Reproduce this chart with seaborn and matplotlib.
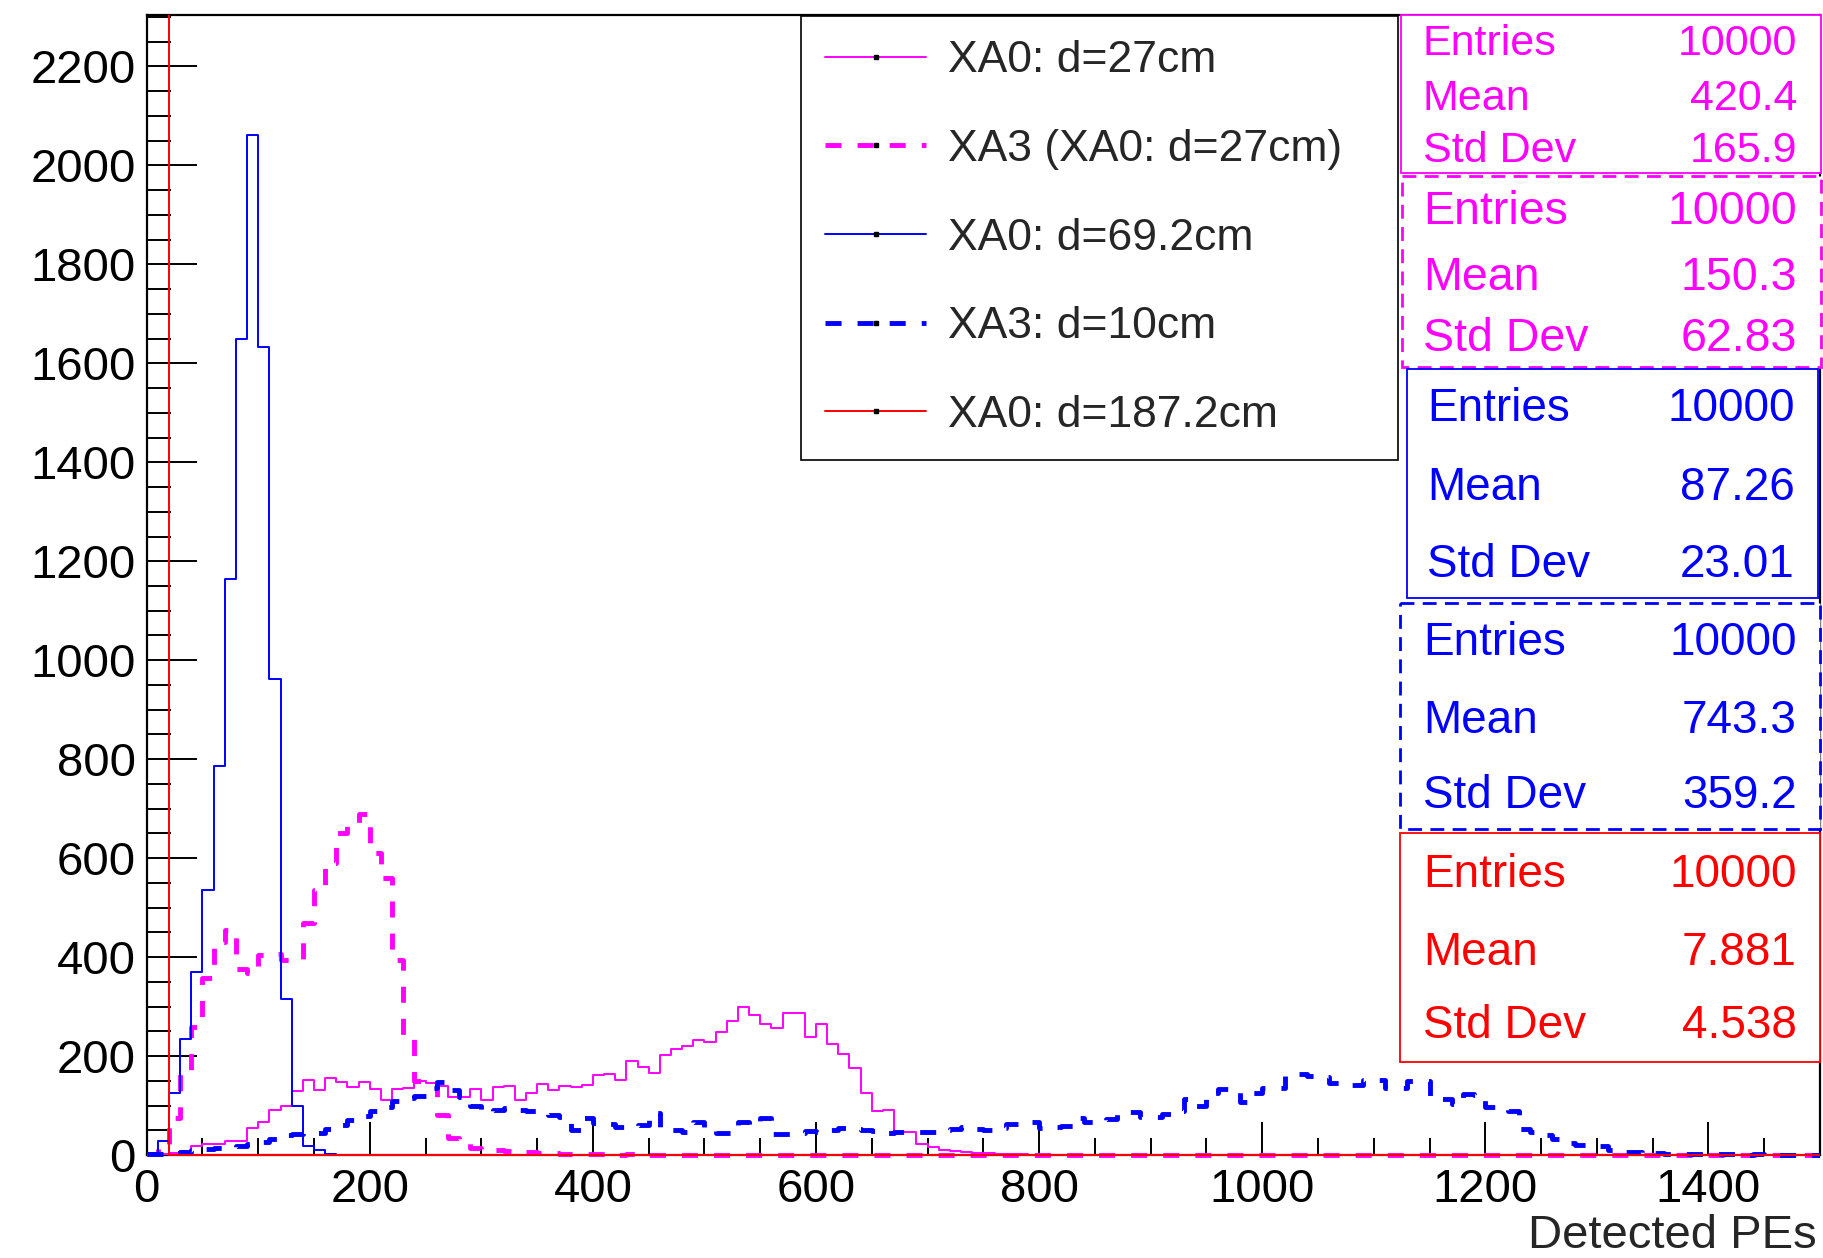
import numpy as np
import pandas as pd
import matplotlib
matplotlib.use("Agg")
import matplotlib.pyplot as plt
import seaborn as sns
from matplotlib.lines import Line2D
from matplotlib.patches import Rectangle
from matplotlib.transforms import Affine2D, Bbox, TransformedBbox
from matplotlib.ticker import MultipleLocator

# ---------------------------------------------------------------- data
bin_edges = list(range(0, 1501, 10))        # 150 bins of 10 PE

xa0_d27 = [
    2, 3, 5, 8, 18, 22, 22, 28, 28, 55,
    67, 91, 99, 129, 151, 131, 156, 147, 138, 147,
    133, 112, 133, 135, 150, 145, 140, 118, 118, 133,
    112, 138, 139, 111, 125, 143, 131, 139, 138, 141,
    162, 164, 152, 189, 178, 165, 202, 215, 220, 232,
    228, 249, 271, 300, 283, 265, 256, 288, 288, 238,
    265, 224, 205, 175, 126, 88, 90, 46, 46, 22,
    17, 11, 8, 7, 5, 4, 3, 2, 2, 1,
    1, 1, 1, 0, 1, 0, 0, 0, 0, 0,
    0, 0, 0, 0, 0, 0, 0, 0, 0, 0,
    0, 0, 0, 0, 0, 0, 0, 0, 0, 0,
    0, 0, 0, 0, 0, 0, 0, 0, 0, 0,
    0, 0, 0, 0, 0, 0, 0, 0, 0, 0,
    0, 0, 0, 0, 0, 0, 0, 0, 0, 0,
    0, 0, 0, 0, 0, 0, 0, 0, 0, 0,
]

xa3_of_xa0_d27 = [
    2, 20, 75, 168, 259, 357, 430, 455, 375, 367,
    404, 406, 394, 395, 468, 535, 590, 650, 665, 690,
    610, 560, 395, 240, 150, 145, 80, 35, 27, 15,
    12, 10, 8, 6, 7, 5, 4, 3, 3, 2,
    2, 2, 1, 2, 1, 1, 1, 0, 1, 0,
    0, 0, 0, 0, 0, 0, 0, 0, 0, 0,
    0, 0, 0, 0, 0, 0, 0, 0, 0, 0,
    0, 0, 0, 0, 0, 0, 0, 0, 0, 0,
    0, 0, 0, 0, 0, 0, 0, 0, 0, 0,
    0, 0, 0, 0, 0, 0, 0, 0, 0, 0,
    0, 0, 0, 0, 0, 0, 0, 0, 0, 0,
    0, 0, 0, 0, 0, 0, 0, 0, 0, 0,
    0, 0, 0, 0, 0, 0, 0, 0, 0, 0,
    0, 0, 0, 0, 0, 0, 0, 0, 0, 0,
    0, 0, 0, 0, 0, 0, 0, 0, 0, 0,
]

xa0_d69 = [
    5, 28, 126, 235, 370, 535, 787, 1165, 1649, 2062,
    1633, 962, 316, 99, 18, 10, 2, 0, 0, 0,
    0, 0, 0, 0, 0, 0, 0, 0, 0, 0,
    0, 0, 0, 0, 0, 0, 0, 0, 0, 0,
    0, 0, 0, 0, 0, 0, 0, 0, 0, 0,
    0, 0, 0, 0, 0, 0, 0, 0, 0, 0,
    0, 0, 0, 0, 0, 0, 0, 0, 0, 0,
    0, 0, 0, 0, 0, 0, 0, 0, 0, 0,
    0, 0, 0, 0, 0, 0, 0, 0, 0, 0,
    0, 0, 0, 0, 0, 0, 0, 0, 0, 0,
    0, 0, 0, 0, 0, 0, 0, 0, 0, 0,
    0, 0, 0, 0, 0, 0, 0, 0, 0, 0,
    0, 0, 0, 0, 0, 0, 0, 0, 0, 0,
    0, 0, 0, 0, 0, 0, 0, 0, 0, 0,
    0, 0, 0, 0, 0, 0, 0, 0, 0, 0,
]

xa3_d10 = [
    2, 2, 4, 6, 10, 12, 15, 15, 18, 22,
    27, 33, 40, 42, 44, 44, 52, 61, 70, 78,
    88, 98, 110, 115, 120, 135, 148, 132, 117, 100,
    86, 90, 94, 91, 88, 83, 80, 77, 50, 75,
    64, 62, 57, 58, 61, 84, 50, 50, 47, 67,
    50, 45, 45, 67, 60, 74, 42, 42, 45, 48,
    47, 50, 54, 52, 50, 48, 45, 47, 46, 47,
    47, 50, 53, 57, 52, 50, 55, 63, 63, 67,
    54, 56, 59, 74, 66, 66, 72, 86, 86, 77,
    77, 82, 88, 114, 100, 125, 133, 133, 108, 125,
    135, 135, 164, 164, 160, 157, 145, 141, 141, 152,
    152, 135, 135, 150, 150, 114, 114, 104, 123, 121,
    98, 98, 88, 52, 47, 40, 32, 24, 20, 18,
    18, 10, 7, 7, 3, 4, 3, 3, 2, 3,
    2, 2, 2, 1, 2, 1, 1, 1, 1, 1,
]

xa0_d187 = [
    7120, 2880, 0, 0, 0, 0, 0, 0, 0, 0,
    0, 0, 0, 0, 0, 0, 0, 0, 0, 0,
    0, 0, 0, 0, 0, 0, 0, 0, 0, 0,
    0, 0, 0, 0, 0, 0, 0, 0, 0, 0,
    0, 0, 0, 0, 0, 0, 0, 0, 0, 0,
    0, 0, 0, 0, 0, 0, 0, 0, 0, 0,
    0, 0, 0, 0, 0, 0, 0, 0, 0, 0,
    0, 0, 0, 0, 0, 0, 0, 0, 0, 0,
    0, 0, 0, 0, 0, 0, 0, 0, 0, 0,
    0, 0, 0, 0, 0, 0, 0, 0, 0, 0,
    0, 0, 0, 0, 0, 0, 0, 0, 0, 0,
    0, 0, 0, 0, 0, 0, 0, 0, 0, 0,
    0, 0, 0, 0, 0, 0, 0, 0, 0, 0,
    0, 0, 0, 0, 0, 0, 0, 0, 0, 0,
    0, 0, 0, 0, 0, 0, 0, 0, 0, 0,
]

series_labels = ["XA0: d=27cm", "XA3 (XA0: d=27cm)", "XA0: d=69.2cm",
                 "XA3: d=10cm", "XA0: d=187.2cm"]
stat_entries = ["10000", "10000", "10000", "10000", "10000"]
stat_means = ["420.4", "150.3", "87.26", "743.3", "7.881"]
stat_stddevs = ["165.9", "62.83", "23.01", "359.2", "4.538"]
x_ticks = [0, 200, 400, 600, 800, 1000, 1200, 1400]
y_ticks = [0, 200, 400, 600, 800, 1000, 1200, 1400, 1600, 1800, 2000, 2200]

# ---------------------------------------------------------------- style
W, H, DPI = 1823, 1258, 100
MAGENTA, BLUE, RED = "#ff00ff", "#0000ff", "#ff0000"
SOLID_LW, DASH_LW = 1.4, 3.5
DASHES = (3.3, 3.3)

sns.set_style("white")
plt.rcParams["font.family"] = ["Liberation Sans", "DejaVu Sans"]

fig = plt.figure(figsize=(W / DPI, H / DPI), dpi=DPI)
ax = fig.add_axes([146.7 / W, 1 - 1155 / H, (1820 - 146.7) / W, (1155 - 15) / H])

# image-pixel transform (origin at top-left)
px = Affine2D().scale(1 / W, -1 / H).translate(0, 1) + fig.transFigure

edges = np.asarray(bin_edges, dtype=float)
centers = (edges[:-1] + edges[1:]) / 2
styles = [
    (xa0_d27, MAGENTA, "solid"),
    (xa3_of_xa0_d27, MAGENTA, "dashed"),
    (xa0_d69, BLUE, "solid"),
    (xa3_d10, BLUE, "dashed"),
    (xa0_d187, RED, "solid"),
]

# clip region reaching slightly below the x axis so zero-level steps stay whole
clip_box = TransformedBbox(Bbox([[0, -0.004], [1, 1]]), ax.transAxes)

handles = []
for (counts, color, ls), label in zip(styles, series_labels):
    df = pd.DataFrame({"pe": centers, "n": counts})
    kw = dict(color=color, linewidth=SOLID_LW if ls == "solid" else DASH_LW)
    if ls == "dashed":
        kw["dashes"] = DASHES
    n_before = len(ax.lines)
    sns.histplot(data=df, x="pe", weights="n", bins=bin_edges, element="step",
                 fill=False, ax=ax, zorder=3, **kw)
    for ln in ax.lines[n_before:]:
        ln.set_clip_path(None)
        ln.set_clip_box(clip_box)
    handles.append(Line2D([], [], marker="s", markersize=2.2,
                          markerfacecolor="black", markeredgecolor="black",
                          label=label, **kw))

ax.set_xlim(0, 1500)
ax.set_ylim(0, 2304)
ax.set_xticks(x_ticks)
ax.set_yticks(y_ticks)
ax.xaxis.set_minor_locator(MultipleLocator(50))
ax.yaxis.set_minor_locator(MultipleLocator(50))
ax.tick_params(axis="both", which="both", direction="in", width=1.4,
               labelsize=34, colors="black", left=True, bottom=True,
               top=False, right=False)
ax.tick_params(axis="y", which="major", length=36, pad=7.8)
ax.tick_params(axis="y", which="minor", length=17.5)
ax.tick_params(axis="x", which="major", length=24, pad=9.5)
ax.tick_params(axis="x", which="minor", length=12)
for sp in ax.spines.values():
    sp.set_linewidth(1.6)
    sp.set_color("black")
ax.set_ylabel("")
ax.set_xlabel("Detected PEs", fontsize=34, loc="right")
ax.xaxis.set_label_coords(0.998, -0.0515)

# ---------------------------------------------------------------- legend
leg = ax.legend(handles=handles, loc="upper left", mode="expand",
                bbox_to_anchor=(801 / W, 1 - 458 / H, 597 / W, 442 / H),
                bbox_transform=fig.transFigure, fontsize=32, frameon=True,
                fancybox=False, framealpha=1, edgecolor="black",
                borderpad=0.55, handlelength=2.26, handletextpad=0.49,
                labelspacing=1.07, borderaxespad=0, numpoints=1)
leg.get_frame().set_linewidth(1.2)
leg.set_zorder(10)

# ---------------------------------------------------------------- stats boxes
boxes = [
    # left, top, right, bottom, label_x, value_x, baselines, size, colour, dashed
    (1401, 14.6, 1821, 172.8, 1423, 1797, (55.4, 110, 162), 31, MAGENTA, False),
    (1402, 176, 1821, 367, 1423, 1797, (224, 290, 351), 33.5, MAGENTA, True),
    (1407, 369, 1818, 598, 1427, 1795, (421, 500, 577), 33, BLUE, False),
    (1400, 602.7, 1820, 829.3, 1423, 1797, (655, 733.3, 808.3), 33, BLUE, True),
    (1400, 833.3, 1820, 1061.7, 1423, 1797, (886.7, 965, 1038.3), 33, RED, False),
]
for i, (l, t, r, b, lx, vx, ys, fs, col, dashed) in enumerate(boxes):
    rect = Rectangle((l, t), r - l, b - t, transform=px, facecolor="white",
                     edgecolor=col, linewidth=1.3 if not dashed else 2.0,
                     linestyle=(0, (5, 3)) if dashed else "solid",
                     zorder=20)
    fig.add_artist(rect)
    rows = [("Entries", stat_entries[i]), ("Mean", stat_means[i]),
            ("Std Dev", stat_stddevs[i])]
    for (name, val), y in zip(rows, ys):
        fig.text(lx, y, name, transform=px, fontsize=fs, color=col,
                 ha="left", va="baseline", zorder=21)
        fig.text(vx, y, val, transform=px, fontsize=fs, color=col,
                 ha="right", va="baseline", zorder=21)

fig.savefig("out.png", dpi=DPI, facecolor="white")
